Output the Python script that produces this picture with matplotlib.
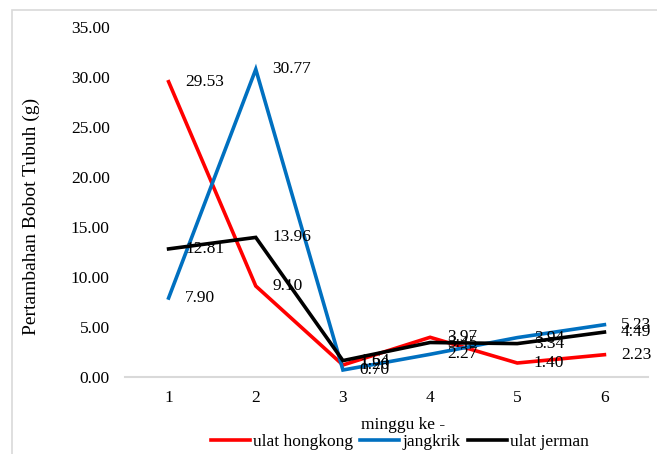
import matplotlib
matplotlib.use("Agg")
import matplotlib.pyplot as plt
from matplotlib.patches import Rectangle

weeks = [1, 2, 3, 4, 5, 6]
ulat_hongkong = [29.53, 9.10, 1.20, 3.97, 1.40, 2.23]
jangkrik = [7.90, 30.77, 0.70, 2.27, 3.94, 5.23]
ulat_jerman = [12.81, 13.96, 1.64, 3.45, 3.34, 4.49]
y_ticks = [0, 5, 10, 15, 20, 25, 30, 35]

series = [
    ("ulat hongkong", ulat_hongkong, "#FF0000"),
    ("jangkrik", jangkrik, "#0070C0"),
    ("ulat jerman", ulat_jerman, "#000000"),
]

plt.rcParams["font.family"] = ["Liberation Serif", "DejaVu Serif"]
fs = 12.5

fig = plt.figure(figsize=(6.57, 4.54), dpi=100)
ax = fig.add_axes([0.1903, 0.1696, 0.7960, 0.7709])

# chart border
fig.patches.append(Rectangle((12 / 657, -0.1), 1.2, 1.1 - 10 / 454,
                             transform=fig.transFigure, fill=False,
                             edgecolor="#d9d9d9", linewidth=1.2))

for name, vals, col in series:
    ax.plot(weeks, vals, color=col, linewidth=2.6, label=name,
            solid_joinstyle="miter")

for name, vals, col in series:
    for x, v in zip(weeks, vals):
        ax.annotate(f"{v:.2f}", (x, v), xytext=(12, 0),
                    textcoords="offset points", ha="left", va="center",
                    fontsize=fs, color="#000000")

ax.set_xlim(0.5, 6.5)
ax.set_ylim(0, 35)
ax.set_xticks(weeks)
ax.set_xticklabels([str(w) for w in weeks])
ax.set_yticks(y_ticks)
ax.set_yticklabels([f"{t:.2f}" for t in y_ticks])
ax.tick_params(axis="both", length=0, labelsize=fs)
ax.tick_params(axis="y", pad=11)
ax.tick_params(axis="x", pad=9)

for s in ["top", "right", "left"]:
    ax.spines[s].set_visible(False)
ax.spines["bottom"].set_color("#d9d9d9")
ax.spines["bottom"].set_linewidth(1.5)

ax.set_xlabel("minggu ke -", fontsize=fs, labelpad=3)
ax.xaxis.set_label_coords(0.5 + 17 / 523, -0.115)
ax.set_ylabel("Pertambahan Bobot Tubuh (g)", fontsize=14)
ax.yaxis.set_label_coords(-(125 - 40) / 523, (377 - 216) / 350)

ax.legend(loc="center", bbox_to_anchor=(400 / 657, 1 - 442 / 454),
          bbox_transform=fig.transFigure, ncol=3, frameon=False,
          fontsize=fs, handlelength=2.25, handletextpad=0.2,
          columnspacing=0.4, borderpad=0)

fig.savefig("out.png", dpi=100)
